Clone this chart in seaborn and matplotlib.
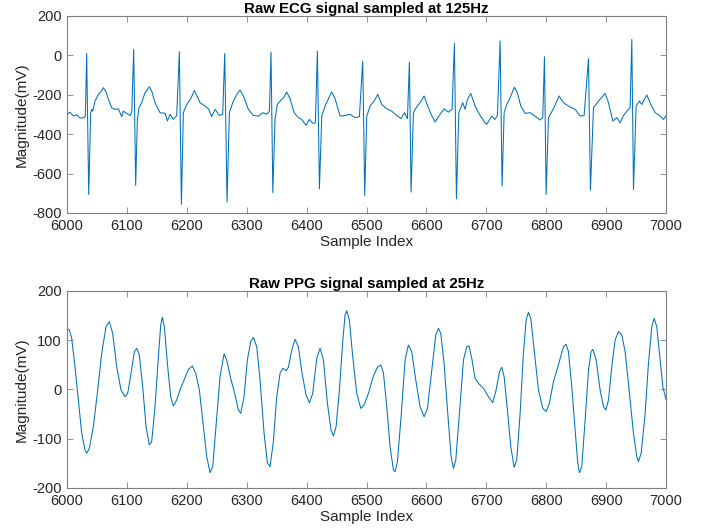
import numpy as np
import pandas as pd
import matplotlib
matplotlib.use("Agg")
import matplotlib.pyplot as plt
import seaborn as sns

# ---- ECG (sample index, magnitude mV) key points ----
ecg_x = [6000, 6005, 6010.6, 6016.1, 6021.7, 6028.4, 6030.6, 6032.8, 6036.2, 6039.5, 6041.2, 6042.8,
         6046.7, 6052.3, 6056.2, 6060.6, 6064.5, 6069, 6074.6, 6080.1, 6085.7, 6091.3, 6094, 6099.6,
         6105.2, 6108, 6111.3, 6114.6, 6117.4, 6120.2, 6124.6, 6130.2, 6137.4, 6141.3, 6146.9, 6155.3,
         6163.6, 6167.5, 6172, 6177.5, 6183.1, 6187.5, 6190.9, 6194.2, 6199.8, 6206.5, 6212.6, 6217.6,
         6222, 6230.4, 6236, 6241.5, 6247.1, 6254.3, 6259.9, 6263.2, 6267.1, 6271, 6276.6, 6283.2,
         6288.8, 6294.4, 6302.7, 6311.1, 6319.4, 6326.6, 6333.3, 6337.8, 6340.5, 6343.5, 6347.2, 6351.1,
         6355.6, 6361.2, 6366.7, 6372.3, 6379, 6386.2, 6391.8, 6399, 6404.6, 6410.1, 6414.6, 6417.9,
         6421.3, 6425.2, 6430.7, 6436.3, 6441.9, 6447.4, 6455.8, 6464.1, 6472.5, 6480.8, 6488, 6493.6,
         6496.9, 6500.3, 6505.9, 6512.5, 6518.7, 6525.3, 6533.7, 6542, 6550.4, 6557.6, 6563.2, 6568.2,
         6571.5, 6574.3, 6578.2, 6583.8, 6589.3, 6596, 6603.2, 6608.8, 6614.4, 6622.7, 6629.4, 6636.6,
         6642.7, 6646.6, 6650, 6653.9, 6660.6, 6664.5, 6668.4, 6673.9, 6681.1, 6689.5, 6697.8, 6700.6,
         6709, 6714.5, 6718.4, 6722.9, 6726.2, 6729.6, 6734, 6739.6, 6746.8, 6751.8, 6757.4, 6764.6,
         6773, 6781.3, 6789.7, 6794.1, 6796.9, 6799.7, 6803.6, 6811.9, 6821.4, 6828.6, 6837, 6848.1,
         6856.5, 6863.1, 6870.4, 6873.7, 6878.7, 6887.1, 6898.2, 6903.8, 6911, 6917.7, 6923.2, 6928.8,
         6937.1, 6939.9, 6942.7, 6945.5, 6949.9, 6955.5, 6959.4, 6967.8, 6974.4, 6981.7, 6988.9, 6995.6,
         7000]
ecg_y = [-300, -288, -308, -301, -318, -316, -308, 10, -706, -291, -274, -284,
         -232, -198, -186, -164, -181, -223, -266, -274, -271, -311, -283, -294,
         -305, -291, 30, -660, -325, -266, -240, -189, -159, -181, -240, -291,
         -294, -333, -299, -325, -305, 19, -756, -291, -249, -220, -178, -210,
         -240, -257, -271, -311, -274, -305, -299, 10, -744, -291, -240, -198,
         -176, -206, -274, -305, -308, -291, -299, -283, 17, -697, -325, -249,
         -232, -215, -186, -220, -291, -316, -325, -355, -325, -345, -342, 22,
         -677, -308, -257, -220, -186, -220, -308, -305, -299, -316, -311, -29,
         -711, -308, -257, -232, -198, -249, -271, -283, -305, -321, -291, -321,
         -34, -694, -291, -261, -240, -206, -266, -305, -338, -299, -271, -288,
         -274, 61, -728, -291, -240, -274, -223, -193, -257, -305, -342, -350,
         -308, -325, -305, 73, -663, -291, -249, -215, -161, -190, -257, -294,
         -291, -308, -328, -316, -7, -706, -316, -271, -206, -240, -257, -274,
         -308, -305, -17, -684, -266, -232, -193, -240, -333, -316, -342, -305,
         -274, -266, 81, -680, -257, -232, -249, -201, -249, -291, -305, -325,
         -305]

# ---- PPG (sample index, magnitude mV) key points ----
ppg_x = [6000, 6003.9, 6007.8, 6013.3, 6018.9, 6024.5, 6030, 6032.8, 6037.3, 6043.9, 6050.6, 6057.9,
         6065.1, 6070.7, 6076.2, 6082.9, 6090.1, 6096.8, 6101.3, 6106.8, 6112.4, 6116.3, 6120.7, 6126.3,
         6131.9, 6137.4, 6141.3, 6146.9, 6152.5, 6156.4, 6159.1, 6162.5, 6167.5, 6173, 6177.5, 6183.1,
         6188.6, 6195.3, 6202.6, 6209.2, 6214.8, 6220.9, 6226.5, 6233.2, 6238.7, 6243.2, 6248.7, 6255.4,
         6262.1, 6266.5, 6273.2, 6280.5, 6286, 6289.9, 6295.5, 6301, 6306.6, 6311.1, 6316.6, 6322.2,
         6328.9, 6334.4, 6338.9, 6344.5, 6350, 6355.6, 6360.1, 6365.6, 6369.5, 6375.1, 6380.6, 6386.2,
         6391.8, 6399, 6404.6, 6410.1, 6416.8, 6422.4, 6428, 6434.6, 6440.7, 6444.6, 6449.1, 6454.7,
         6460.2, 6464.1, 6466.9, 6471.3, 6476.9, 6483.6, 6490.3, 6495.8, 6503.1, 6511.4, 6518.1, 6523.7,
         6528.1, 6533.7, 6539.2, 6544.8, 6547.6, 6551.5, 6557.6, 6564.3, 6569.8, 6575.4, 6582.1, 6589.3,
         6596, 6601.6, 6608.8, 6615.5, 6619.9, 6623.8, 6629.4, 6635.5, 6641.1, 6645, 6648.9, 6655,
         6661.7, 6667.2, 6671.1, 6676.1, 6681.1, 6686.7, 6695.1, 6703.4, 6710.6, 6716.2, 6721.8, 6725.7,
         6729.6, 6735.1, 6740.7, 6746.3, 6750.7, 6756.3, 6761.8, 6766.3, 6770.2, 6774.1, 6779.7, 6786.9,
         6794.1, 6799.7, 6805.2, 6811.9, 6818.6, 6824.2, 6828.6, 6833.1, 6837, 6842.5, 6848.1, 6852.6,
         6855.3, 6859.2, 6864.8, 6870.4, 6874.8, 6877.6, 6883.2, 6889.8, 6895.4, 6899.3, 6903.8, 6909.3,
         6914.9, 6920.5, 6926, 6931.6, 6938.8, 6945.5, 6951.1, 6953.8, 6958.3, 6965, 6970.5, 6976.1,
         6980, 6984.4, 6990, 6994.5, 7000]
ppg_y = [124.2, 120.8, 103.9, 46.3, -21.3, -89, -123, -129.6, -119.5, -75.5, -7.8, 73.4,
         127.5, 137.7, 114, 46.3, -1, -14.6, -7.8, 32.8, 76.8, 83.6, 70, 5.7,
         -75.5, -112.7, -106, -34.9, 66.6, 131, 146.5, 127.5, 53.1, -14.6, -33.5, -21.3,
         -1, 19.3, 40.9, 47.7, 32.8, -1, -62, -136.4, -168.9, -156.7, -75.5, 26,
         72.1, 59.9, 22.6, -11.2, -41.7, -48.4, -14.6, 59.9, 97.1, 105.9, 87, 19.3,
         -89, -148.6, -156.7, -105, -14.6, 32.8, 43, 38.2, 45, 80.2, 101.8, 87,
         36.2, -11.2, -26.8, -7.8, 63.2, 83.6, 59.9, -28.1, -82.3, -94.4, -75.5, -1,
         97.1, 151.2, 160, 141.1, 66.6, -7.8, -38.3, -31.5, -7.8, 27.4, 45, 49.7,
         34.1, -34.9, -116, -163.5, -166.9, -146.6, -55.2, 59.9, 90.3, 76.8, 19.3, -34.9,
         -55.2, -38.3, 39.6, 110.6, 124.2, 114, 53.1, -48.4, -136.4, -160, -143.2, -48.4,
         59.9, 87, 88.3, 59.9, 22.6, 12.5, 2.3, -14.6, -26.8, -1, 36.2, 45,
         26, -41.7, -116, -158.1, -143.2, -48.4, 73.4, 141.1, 156.7, 144.5, 80.2, -1,
         -38.3, -45, -28.1, 15.9, 43, 68, 87, 91.7, 76.8, 5.7, -82.3, -150,
         -168.9, -156.7, -62, 39.6, 76.8, 81.5, 59.9, -1, -34.9, -41.7, -21.3, 46.3,
         100.5, 117.4, 110.6, 76.8, -7.8, -89, -136.4, -146.6, -129.6, -48.4, 53.1, 127.5,
         144.5, 127.5, 59.9, 5.7, -21.3]

ecg_title = "Raw ECG signal sampled at 125Hz"
ppg_title = "Raw PPG signal sampled at 25Hz"
x_ticks = [6000, 6100, 6200, 6300, 6400, 6500, 6600, 6700, 6800, 6900, 7000]
ecg_yticks = [-800, -600, -400, -200, 0, 200]
ppg_yticks = [-200, -100, 0, 100, 200]

sns.set_theme(style="white")
plt.rcParams["font.family"] = ["Liberation Sans", "DejaVu Sans"]

LINE = "#0072BD"
AX = "#262626"

fig = plt.figure(figsize=(7.04, 5.28), dpi=100)
ax1 = fig.add_axes([0.0952, 0.5966, 0.851, 0.3731])
ax2 = fig.add_axes([0.0952, 0.0758, 0.851, 0.3731])

ecg_df = pd.DataFrame({"Sample Index": ecg_x, "Magnitude(mV)": ecg_y})
ppg_df = pd.DataFrame({"Sample Index": ppg_x, "Magnitude(mV)": ppg_y})

sns.lineplot(data=ecg_df, x="Sample Index", y="Magnitude(mV)", ax=ax1, color=LINE,
             linewidth=0.75, estimator=None, sort=False)
sns.lineplot(data=ppg_df, x="Sample Index", y="Magnitude(mV)", ax=ax2, color=LINE,
             linewidth=0.75, estimator=None, sort=False)

for ax, title, yt in [(ax1, ecg_title, ecg_yticks), (ax2, ppg_title, ppg_yticks)]:
    ax.set_xlim(6000, 7000)
    ax.set_ylim(yt[0], yt[-1])
    ax.set_xticks(x_ticks)
    ax.set_yticks(yt)
    ax.set_xticklabels([str(t) for t in x_ticks])
    ax.set_yticklabels([str(t) for t in yt])
    ax.set_title(title, fontsize=10.8, fontweight="bold", color="black", pad=2)
    ax.set_xlabel("Sample Index", fontsize=11, color=AX, labelpad=2)
    ax.set_ylabel("Magnitude(mV)", fontsize=11, color=AX, labelpad=2)
    ax.tick_params(direction="in", length=4, width=0.6, labelsize=10.5,
                   top=True, right=True, bottom=True, left=True)
    ax.tick_params(axis="x", colors="#808080", labelcolor=AX, pad=4)
    ax.tick_params(axis="y", colors="#808080", labelcolor=AX, pad=4)
    for sp in ax.spines.values():
        sp.set_visible(True)
        sp.set_color("#808080")
        sp.set_linewidth(0.8)
    ax.grid(False)

fig.savefig("out.png", dpi=100)
